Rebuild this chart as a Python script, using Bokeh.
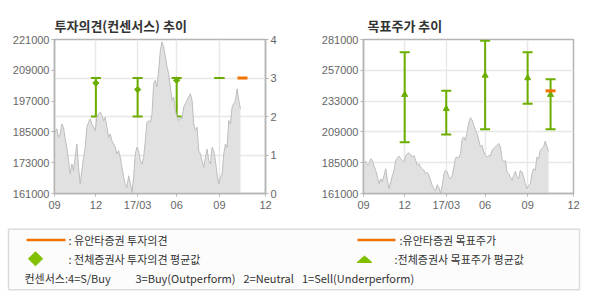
from bokeh.plotting import figure
from bokeh.models import (Range1d, LinearAxis, FixedTicker, BasicTickFormatter,
                          ColumnDataSource, Whisker, TeeHead)
from bokeh.layouts import column, row
from bokeh.embed import file_html
from bokeh.resources import INLINE
from bokeh.core.properties import value
import numpy as np

# ---------------- data ----------------
price = [
    184900, 186200, 182900, 184200, 188100, 186800, 182300, 179000, 173800, 168600,
    172500, 169900, 175100, 180300, 171200, 164700, 169900, 175100, 179000, 186800,
    188800, 190100, 188100, 186800, 185500, 190700, 192000, 192700, 191400, 189400,
    190700, 186800, 182900, 184200, 181600, 180300, 179000, 176400, 177700, 175100,
    171200, 167300, 164700, 163300, 167900, 165300, 161400, 167300, 176400, 179000,
    177700, 173800, 172500, 175100, 181600, 188800, 189400, 188800, 192000, 203800,
    205100, 202500, 209000, 216800, 220100, 218100, 214200, 210300, 207700, 202500,
    197300, 198600, 193300, 190700, 189400, 190700, 190100, 194700, 196000, 197300,
    198600, 199900, 197300, 188100, 185500, 186800, 177700, 176400, 173800, 171200,
    175100, 178300, 173800, 172500, 179000, 177700, 173800, 168600, 164700, 167300,
    168600, 176400, 180300, 179000, 189400, 188100, 194700, 196000, 197300, 201800,
    197300, 194000,
]
month_pos = [-0.4, 24.4, 49.4, 72.8, 98.4, 126.0]
month_labels = ["09", "12", "17/03", "06", "09", "12"]

op_x = [24.4, 49.4, 72.8, 98.4]
op_hi = [3, 3, 3, 3]
op_lo = [2, 2, 2, 3]
op_mean_x = [24.4, 49.4, 72.8]
op_mean = [2.87, 2.70, 2.94]
yuanta_op_x = [112.2]
yuanta_op = [3]

tp_x = [24.4, 49.4, 72.8, 98.4, 112.2]
tp_hi = [271000, 241000, 280000, 271000, 250000]
tp_lo = [201000, 207000, 211000, 231000, 211000]
tp_mean = [238000, 227000, 253000, 251000, 238000]
yuanta_tp_x = [112.2]
yuanta_tp = [241000]

left_price_ticks = [161000, 173000, 185000, 197000, 209000, 221000]
op_ticks = [0, 1, 2, 3, 4]
right_price_ticks = [161000, 185000, 209000, 233000, 257000, 281000]

# ---------------- style ----------------
GREEN = "#6cae00"
LGREEN = "#80c000"
ORANGE = "#f37100"
AXC = "#b4b4b4"
GRIDC = "#e8e8e8"
KR = "Noto Sans CJK KR"
NUM = "Liberation Sans"

xs = np.arange(len(price))


def style_axis(ax):
    ax.axis_line_color = AXC
    ax.axis_line_width = 1.5
    ax.major_tick_line_color = AXC
    ax.major_tick_in = 0
    ax.major_tick_out = 3
    ax.minor_tick_line_color = None
    ax.major_label_text_font = NUM
    ax.major_label_text_font_size = "11px"
    ax.major_label_text_color = "#666666"
    ax.major_label_standoff = 2


def make_fig(title, bl, br, y_range, yloc, title_offset):
    p = figure(width=295, height=220, output_backend="svg", toolbar_location=None,
               x_range=Range1d(month_pos[0], month_pos[-1]), y_range=y_range,
               y_axis_location=yloc, min_border_left=bl, min_border_right=br,
               min_border_top=39, min_border_bottom=27, title=title)
    p.title.text_font = KR
    p.title.text_font_size = "13px"
    p.title.text_font_style = "bold"
    p.title.text_color = "#333333"
    p.title.offset = title_offset
    p.outline_line_color = AXC
    p.outline_line_width = 1.5
    p.background_fill_color = "white"
    p.border_fill_color = "white"
    mt = FixedTicker(ticks=month_pos)
    p.xaxis.ticker = mt
    p.xaxis.major_label_overrides = {v: l for v, l in zip(month_pos, month_labels)}
    p.xgrid.ticker = mt
    p.xgrid.grid_line_color = GRIDC
    p.xgrid.grid_line_width = 1.5
    p.ygrid.grid_line_color = GRIDC
    p.ygrid.grid_line_width = 1.5
    style_axis(p.xaxis[0])
    style_axis(p.yaxis[0])
    return p


# ---------------- left chart: opinion ----------------
pl = make_fig("투자의견(컨센서스) 추이", 54, 30, Range1d(0, 4), "right", 0)
pl.extra_y_ranges = {"price": Range1d(left_price_ticks[0], left_price_ticks[-1])}
pl.yaxis[0].ticker = FixedTicker(ticks=op_ticks)
pl.ygrid.ticker = FixedTicker(ticks=op_ticks)
lax = LinearAxis(y_range_name="price", ticker=FixedTicker(ticks=left_price_ticks),
                 formatter=BasicTickFormatter(use_scientific=False))
style_axis(lax)
pl.add_layout(lax, "left")

pl.varea(x=xs, y1=left_price_ticks[0], y2=price, fill_color="#e1e1e1", y_range_name="price")
pl.line(x=xs, y=price, line_color="#bdbdbd", line_width=1, y_range_name="price")

src_op = ColumnDataSource(dict(x=op_x, hi=op_hi, lo=op_lo))
pl.add_layout(Whisker(base="x", upper="hi", lower="lo", source=src_op,
                      line_color=GREEN, line_width=2,
                      upper_head=TeeHead(size=10, line_color=GREEN, line_width=2),
                      lower_head=TeeHead(size=10, line_color=GREEN, line_width=2)))
r1 = pl.scatter(x=op_mean_x, y=op_mean, marker="square", angle=np.pi / 4, size=4.5,
                fill_color=GREEN, line_color=GREEN, line_width=1)
r1.level = "overlay"
r2 = pl.scatter(x=yuanta_op_x, y=yuanta_op, marker="dash", size=10, line_color=ORANGE, line_width=3)
r2.level = "overlay"

# ---------------- right chart: target price ----------------
pr = make_fig("목표주가 추이", 68, 17, Range1d(right_price_ticks[0], right_price_ticks[-1]), "left", 4)
pr.yaxis[0].ticker = FixedTicker(ticks=right_price_ticks)
pr.yaxis[0].formatter = BasicTickFormatter(use_scientific=False)
pr.ygrid.ticker = FixedTicker(ticks=right_price_ticks)

pr.varea(x=xs, y1=right_price_ticks[0], y2=price, fill_color="#e1e1e1")
pr.line(x=xs, y=price, line_color="#bdbdbd", line_width=1)

src_tp = ColumnDataSource(dict(x=tp_x, hi=tp_hi, lo=tp_lo))
pr.add_layout(Whisker(base="x", upper="hi", lower="lo", source=src_tp,
                      line_color=GREEN, line_width=2,
                      upper_head=TeeHead(size=10, line_color=GREEN, line_width=2),
                      lower_head=TeeHead(size=10, line_color=GREEN, line_width=2)))
r3 = pr.scatter(x=tp_x, y=tp_mean, marker="triangle", size=6,
                fill_color=GREEN, line_color=GREEN)
r3.level = "overlay"
r4 = pr.scatter(x=yuanta_tp_x, y=yuanta_tp, marker="dash", size=10, line_color=ORANGE, line_width=3)
r4.level = "overlay"

# ---------------- legend panel ----------------
lg = figure(width=590, height=80, output_backend="svg", toolbar_location=None,
            x_range=Range1d(0, 590), y_range=Range1d(80, 0),
            x_axis_location=None, y_axis_location=None, min_border=0)
lg.grid.visible = False
lg.outline_line_color = None
lg.background_fill_color = "white"
lg.border_fill_color = "white"

lg.quad(left=8, right=579, top=8.7, bottom=69.3, fill_color="#fcfcfc",
        line_color="#dcdcdc", line_width=1.5)
lg.segment(x0=[26, 357], y0=[19.5, 19.5], x1=[65, 395], y1=[19.5, 19.5],
           line_color=ORANGE, line_width=2.5)
lg.scatter(x=[35], y=[38.3], marker="square", angle=np.pi / 4, size=10,
           fill_color=LGREEN, line_color=LGREEN)
lg.patch(x=[356.5, 371.5, 364], y=[42, 42, 35.5], fill_color=LGREEN, line_color=LGREEN)

lg.text(x=[68, 68, 399, 394],
        y=[19.5, 38.5, 19.5, 38.5],
        text=[": 유안타증권 투자의견", ": 전체증권사 투자의견 평균값",
              ":유안타증권 목표주가", ":전체증권사 목표주가 평균값"],
        text_font=value(KR), text_font_size=value("11px"),
        text_baseline="middle", text_color="#333333")
lg.text(x=[24, 135, 243, 301.5],
        y=[57.7, 57.7, 57.7, 57.7],
        text=["컨센서스:4=S/Buy", "3=Buy(Outperform)", "2=Neutral", "1=Sell(Underperform)"],
        text_font=value(KR), text_font_size=value("11px"),
        text_baseline="middle", text_color="#333333")

layout = column(row(pl, pr, spacing=0), lg, spacing=0)
open("out.html", "w").write(file_html(layout, INLINE))
